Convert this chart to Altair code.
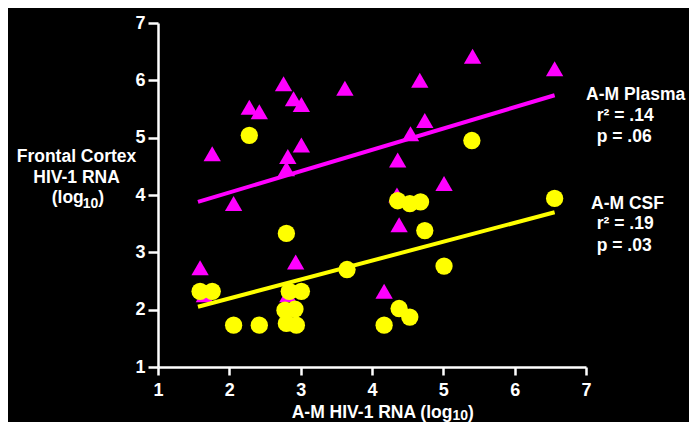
import altair as alt
import pandas as pd

# A-M Plasma (triangles)
plasma_x = [1.59, 1.65, 1.76, 2.06, 2.28, 2.42, 2.76, 2.90, 3.01, 2.82, 2.80, 3.01, 3.62,
            2.93, 2.82, 4.17, 4.38, 4.35, 4.36, 4.54, 4.74, 4.67, 5.01, 5.41, 6.56]
plasma_y = [2.73, 2.26, 4.72, 3.85, 5.53, 5.45, 5.94, 5.68, 5.58, 4.67, 4.46, 4.87, 5.86,
            2.83, 2.26, 2.32, 3.48, 4.00, 4.61, 5.07, 5.30, 6.00, 4.20, 6.42, 6.20]

# A-M CSF (circles)
csf_x = [1.59, 1.76, 2.06, 2.42, 2.28, 2.80, 2.84, 3.01, 2.78, 2.92, 2.80, 2.94,
         3.65, 4.17, 4.38, 4.53, 4.36, 4.53, 4.68, 4.74, 5.01, 5.40, 6.56]
csf_y = [2.32, 2.32, 1.73, 1.73, 5.04, 3.33, 2.32, 2.32, 1.99, 2.01, 1.76, 1.73,
         2.70, 1.73, 2.02, 1.87, 3.90, 3.85, 3.88, 3.38, 2.76, 4.95, 3.94]

# regression lines (end points)
plasma_fit_x = [1.56, 6.56]
plasma_fit_y = [3.88, 5.74]
csf_fit_x = [1.56, 6.56]
csf_fit_y = [2.05, 3.70]

x_ticks = [1, 2, 3, 4, 5, 6, 7]
y_ticks = [1, 2, 3, 4, 5, 6, 7]

label_text = ["A-M Plasma", "r\u00b2 = .14", "p = .06", "A-M CSF", "r\u00b2 = .19", "p = .03"]
label_x = [7.0, 7.15, 7.15, 7.07, 7.15, 7.15]
label_y = [5.65, 5.29, 4.92, 3.76, 3.40, 3.03]

# axis titles, split so that the subscript "10" is drawn smaller and lowered
title_text = ["Frontal Cortex", "HIV-1 RNA", "(log", "10", ")",
              "A-M HIV-1 RNA (log", "10", ")"]
title_px = [-141.3, -124.7, -106.3, -75.3, -59.7, 133.7, 294.5, 310.1]
title_py = [138.7, 160.3, 180.3, 185.3, 180.3, 394.7, 397.0, 394.7]
title_fs = [17.5, 17.5, 17.5, 14, 17.5, 17.5, 14, 17.5]

FONT = "Liberation Sans"
MAGENTA = "#ff00ff"
YELLOW = "#ffff00"

xscale = alt.Scale(domain=[1, 7], nice=False, zero=False)
yscale = alt.Scale(domain=[1, 7], nice=False, zero=False)

plasma_df = pd.DataFrame({"x": plasma_x, "y": plasma_y})
csf_df = pd.DataFrame({"x": csf_x, "y": csf_y})
pfit_df = pd.DataFrame({"x": plasma_fit_x, "y": plasma_fit_y})
cfit_df = pd.DataFrame({"x": csf_fit_x, "y": csf_fit_y})
lab_df = pd.DataFrame({"x": label_x, "y": label_y, "t": label_text})
title_df = pd.DataFrame({"px": title_px, "py": title_py, "t": title_text, "fs": title_fs})

xaxis = alt.Axis(
    values=x_ticks, title=None, grid=False,
    domainColor="white", domainWidth=2.5, tickColor="white", tickWidth=2.5, tickSize=8,
    labelColor="white", labelFont=FONT, labelFontSize=18, labelFontWeight="bold",
    labelPadding=6, labelFlush=False,
)
yaxis = alt.Axis(
    values=y_ticks, title=None, grid=False,
    domainColor="white", domainWidth=2.5, tickColor="white", tickWidth=2.5, tickSize=10,
    labelColor="white", labelFont=FONT, labelFontSize=18, labelFontWeight="bold",
    labelPadding=3, labelFlush=False,
)

X = alt.X("x:Q", scale=xscale, axis=xaxis)
Y = alt.Y("y:Q", scale=yscale, axis=yaxis)

tri = alt.Chart(plasma_df).mark_point(
    shape="triangle-up", filled=True, color=MAGENTA, size=300, opacity=1
).encode(x=X, y=Y)

pline = alt.Chart(pfit_df).mark_line(color=MAGENTA, strokeWidth=4).encode(x=X, y=Y)
cline = alt.Chart(cfit_df).mark_line(color=YELLOW, strokeWidth=4).encode(x=X, y=Y)

circ = alt.Chart(csf_df).mark_circle(color=YELLOW, size=300, opacity=1).encode(x=X, y=Y)

labels = alt.Chart(lab_df).mark_text(
    align="left", baseline="alphabetic", color="white", font=FONT,
    fontSize=17.5, fontWeight="bold", clip=False
).encode(x=X, y=Y, text="t:N")

titles = alt.Chart(title_df).mark_text(
    align="left", baseline="alphabetic", color="white", font=FONT,
    fontWeight="bold", clip=False
).encode(
    x=alt.X("px:Q", scale=None),
    y=alt.Y("py:Q", scale=None),
    size=alt.Size("fs:Q", scale=None),
    text="t:N",
)

chart = alt.layer(tri, pline, cline, circ, labels, titles).properties(
    width=428, height=344,
    padding={"left": 150, "top": 15, "right": 103, "bottom": 55},
    autosize=alt.AutoSizeParams(type="none"),
    background="black",
).configure_view(stroke=None)

chart.save("out.html", embed_options={"renderer": "svg", "actions": False})
